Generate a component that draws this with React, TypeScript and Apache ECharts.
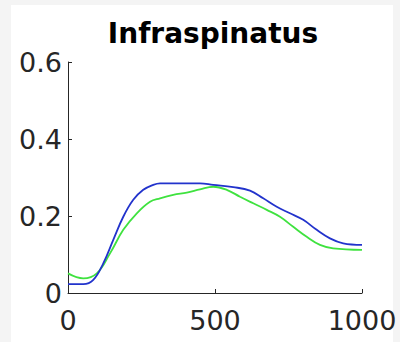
import React, { useEffect, useRef } from "react";
import * as echarts from "echarts";

const titleText = "Infraspinatus";
const xTicks = [0, 500, 1000];
const yTicks = [0, 0.2, 0.4, 0.6];

const blueX = [0, 52, 86, 120, 154, 188, 222, 256, 290, 313, 449, 494, 562, 619, 664, 710, 755, 800, 846, 891, 936, 1000];
const blueY = [0.023, 0.023, 0.034, 0.077, 0.138, 0.198, 0.242, 0.268, 0.281, 0.285, 0.285, 0.281, 0.275, 0.266, 0.246, 0.224, 0.207, 0.19, 0.164, 0.142, 0.129, 0.125];

const greenX = [0, 52, 98, 143, 188, 234, 279, 313, 358, 404, 449, 494, 540, 585, 630, 676, 721, 766, 812, 857, 902, 1000];
const greenY = [0.051, 0.038, 0.051, 0.103, 0.164, 0.207, 0.237, 0.246, 0.255, 0.261, 0.269, 0.276, 0.268, 0.25, 0.233, 0.216, 0.198, 0.172, 0.146, 0.125, 0.116, 0.112];

const pairs = (xs: number[], ys: number[]) => xs.map((x, i) => [x, ys[i]]);

export default function App() {
  const ref = useRef<HTMLDivElement>(null);
  useEffect(() => {
    const chart = echarts.init(ref.current!, null, { renderer: "svg" });
    const axisColor = "#262626";
    const font = "DejaVu Sans";
    chart.setOption({
      animation: false,
      backgroundColor: "#f4f4f4",
      graphic: [
        { type: "rect", z: -10, shape: { x: 11, y: 5, width: 382, height: 337 }, style: { fill: "#ffffff" } },
        {
          type: "text",
          x: 213,
          y: 33,
          style: {
            text: titleText,
            fontFamily: font,
            fontWeight: "bold",
            fontSize: 28,
            fill: "#000000",
            textAlign: "center",
            textVerticalAlign: "middle",
          },
        },
      ],
      grid: { left: 68, right: 38, top: 62, bottom: 49, containLabel: false },
      xAxis: {
        type: "value",
        min: xTicks[0],
        max: xTicks[xTicks.length - 1],
        interval: 500,
        axisLine: { show: true, lineStyle: { color: axisColor, width: 1 } },
        axisTick: { show: true, inside: true, length: 4, lineStyle: { color: axisColor } },
        splitLine: { show: false },
        axisLabel: { color: axisColor, fontFamily: font, fontSize: 27, margin: 14, formatter: (v: number) => String(v) },
      },
      yAxis: {
        type: "value",
        min: yTicks[0],
        max: yTicks[yTicks.length - 1],
        interval: 0.2,
        axisLine: { show: true, lineStyle: { color: axisColor, width: 1 } },
        axisTick: { show: true, inside: true, length: 4, lineStyle: { color: axisColor } },
        splitLine: { show: false },
        axisLabel: {
          color: axisColor,
          fontFamily: font,
          fontSize: 27,
          margin: 6,
          padding: [7, 0, 0, 0],
          formatter: (v: number) => (v === 0 ? "0" : v.toFixed(1)),
        },
      },
      series: [
        {
          type: "line",
          data: pairs(greenX, greenY),
          smooth: 0.4,
          showSymbol: false,
          lineStyle: { color: "#3fe23f", width: 1.8 },
        },
        {
          type: "line",
          data: pairs(blueX, blueY),
          smooth: 0.4,
          showSymbol: false,
          lineStyle: { color: "#2233cc", width: 1.8 },
        },
      ],
    });
    return () => chart.dispose();
  }, []);
  return <div ref={ref} style={{ position: "fixed", left: 0, top: 0, width: 400, height: 342 }} />;
}
